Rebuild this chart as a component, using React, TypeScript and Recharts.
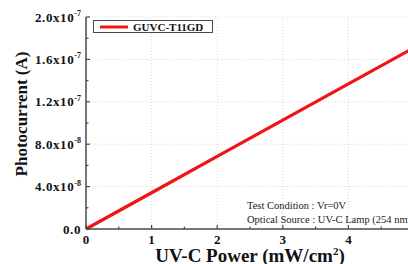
import React from 'react'
import { LineChart, Line, XAxis, YAxis, ReferenceLine } from 'recharts'

// values
const powerValues = [0, 1, 2, 3, 4, 5]
const currentValues = [0, 3.42e-8, 6.85e-8, 1.027e-7, 1.369e-7, 1.71e-7]

const xMajorTicks = [0, 1, 2, 3, 4, 5]
const xMinorTicks = [0.5, 1.5, 2.5, 3.5, 4.5]
const yMajorTicks = [0, 4e-8, 8e-8, 1.2e-7, 1.6e-7, 2e-7]
const yMinorTicks = [2e-8, 6e-8, 1e-7, 1.4e-7, 1.8e-7]

const SERIES_NAME = 'GUVC-T11GD'
const NOTE_LINES = [
  'Test Condition : Vr=0V',
  'Optical Source : UV-C Lamp (254 nm)',
]

const data = powerValues.map((x, i) => ({ x, y: currentValues[i] }))

const FONT = '"Liberation Serif", "Times New Roman", serif'
const AXIS_COLOR = '#4a4a4a'
const GRID_COLOR = '#d8d8d8'
const LINE_COLOR = '#f01414'

const xTicks = [...xMajorTicks, ...xMinorTicks].sort((a, b) => a - b)
const yTicks = [...yMajorTicks, ...yMinorTicks].sort((a, b) => a - b)

function sciParts(v: number) {
  if (v === 0) return null
  const exp = Math.floor(Math.log10(v) + 1e-9)
  const mant = v / Math.pow(10, exp)
  return { mant: mant.toFixed(1), exp }
}

// ticks are drawn inward, labels outside; tickSize=0 so x/y sit on the axis line
function BottomTick(props: any) {
  const { x, y, payload } = props
  const major = xMajorTicks.includes(payload.value)
  return (
    <g>
      <line x1={x} x2={x} y1={y} y2={y - (major ? 4 : 2.5)} stroke={AXIS_COLOR} strokeWidth={1.2} />
      {major && (
        <text x={x} y={y + 14.5} textAnchor="middle" fontFamily={FONT} fontWeight="bold" fontSize={13} fill="#111">
          {payload.value}
        </text>
      )}
    </g>
  )
}

function TopTick(props: any) {
  const { x, y, payload } = props
  const major = xMajorTicks.includes(payload.value)
  return (
    <line x1={x} x2={x} y1={y} y2={y + (major ? 4 : 2.5)} stroke={AXIS_COLOR} strokeWidth={1.2} />
  )
}

function LeftTick(props: any) {
  const { x, y, payload } = props
  const major = yMajorTicks.includes(payload.value)
  const parts = sciParts(payload.value)
  return (
    <g>
      <line x1={x} x2={x + (major ? 4 : 2.5)} y1={y} y2={y} stroke={AXIS_COLOR} strokeWidth={1.2} />
      {major && (
        <text
          x={x - 5}
          y={y + 4.5}
          textAnchor="end"
          fontFamily={FONT}
          fontWeight="bold"
          fontSize={13}
          letterSpacing={0.6}
          fill="#111"
        >
          {parts ? (
            <>
              <tspan>{`${parts.mant}x10`}</tspan>
              <tspan dy={-5.5} fontSize={8} letterSpacing={0}>{parts.exp}</tspan>
            </>
          ) : (
            '0.0'
          )}
        </text>
      )}
    </g>
  )
}

function XTitle(props: any) {
  const { viewBox } = props
  const cx = viewBox.x + viewBox.width / 2
  return (
    <text x={cx} y={261.5} textAnchor="middle" fontFamily={FONT} fontWeight="bold" fontSize={19} fill="#111">
      <tspan>UV-C Power (mW/cm</tspan>
      <tspan dy={-7} fontSize={11}>2</tspan>
      <tspan dy={7}>)</tspan>
    </text>
  )
}

function YTitle() {
  return (
    <text
      x={27}
      y={114}
      transform="rotate(-90, 27, 114)"
      textAnchor="middle"
      fontFamily={FONT}
      fontWeight="bold"
      fontSize={17}
      fill="#111"
    >
      Photocurrent (A)
    </text>
  )
}

function LegendBox() {
  return (
    <div
      style={{
        position: 'absolute',
        left: 93,
        top: 20,
        width: 118,
        height: 11,
        border: `1px solid ${AXIS_COLOR}`,
        background: '#fff',
      }}
    >
      <svg width={118} height={11} style={{ position: 'absolute', left: 0, top: 0 }}>
        <line x1={6} x2={34} y1={6} y2={6} stroke={LINE_COLOR} strokeWidth={3} />
        <text x={39} y={9.5} fontFamily={FONT} fontWeight="bold" fontSize={11} fill="#111">
          {SERIES_NAME}
        </text>
      </svg>
    </div>
  )
}

export default function App() {
  return (
    <div
      style={{
        position: 'fixed',
        left: 0,
        top: 0,
        width: 408,
        height: 264,
        overflow: 'hidden',
        background: '#fff',
      }}
    >
      <LineChart width={420} height={264} data={data} margin={{ top: 17, right: 6, bottom: 0, left: 0 }}>
        {xMajorTicks.slice(1).map((v) => (
          <ReferenceLine key={`gx${v}`} x={v} stroke={GRID_COLOR} strokeDasharray="1 2" strokeWidth={1} />
        ))}
        {yMajorTicks.slice(1).map((v) => (
          <ReferenceLine key={`gy${v}`} y={v} stroke={GRID_COLOR} strokeDasharray="1 2" strokeWidth={1} />
        ))}
        <XAxis
          dataKey="x"
          type="number"
          domain={[0, 5]}
          ticks={xTicks}
          interval={0}
          height={35}
          tickSize={0}
          tickMargin={0}
          tickLine={false}
          axisLine={{ stroke: AXIS_COLOR, strokeWidth: 1.5 }}
          tick={BottomTick}
          label={{ content: XTitle }}
        />
        <XAxis
          xAxisId="top"
          dataKey="x"
          type="number"
          orientation="top"
          domain={[0, 5]}
          ticks={xTicks}
          interval={0}
          height={0}
          tickSize={0}
          tickMargin={0}
          tickLine={false}
          axisLine={{ stroke: AXIS_COLOR, strokeWidth: 1.5 }}
          tick={TopTick}
        />
        <YAxis
          type="number"
          domain={[0, 2e-7]}
          ticks={yTicks}
          interval={0}
          width={86}
          tickSize={0}
          tickMargin={0}
          tickLine={false}
          axisLine={{ stroke: AXIS_COLOR, strokeWidth: 1.5 }}
          tick={LeftTick}
          label={{ content: YTitle }}
        />
        <Line
          type="linear"
          dataKey="y"
          name={SERIES_NAME}
          stroke={LINE_COLOR}
          strokeWidth={3.2}
          dot={false}
          activeDot={false}
          isAnimationActive={false}
        />
      </LineChart>
      <LegendBox />
      <div
        style={{
          position: 'absolute',
          left: 247,
          top: 199,
          fontFamily: FONT,
          fontSize: 10.5,
          lineHeight: '13.5px',
          color: '#222',
          whiteSpace: 'nowrap',
        }}
      >
        {NOTE_LINES.map((t) => (
          <div key={t}>{t}</div>
        ))}
      </div>
    </div>
  )
}
